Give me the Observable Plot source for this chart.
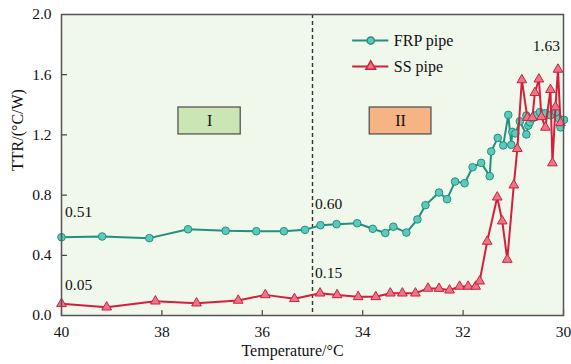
<!DOCTYPE html>
<html><head><meta charset="utf-8">
<script src="https://cdn.jsdelivr.net/npm/d3@7"></script>
<script src="https://cdn.jsdelivr.net/npm/@observablehq/plot@0.6"></script>
<style>
body{margin:0;background:#fff;}
svg, svg text { font-family: "Liberation Serif", "Times New Roman", Times, serif !important; }
</style>
</head><body><div id="chart"></div>
<script>
// ---- data ----
const seriesNames = ["FRP pipe", "SS pipe"];
const frpTemp = [40, 39.19, 38.25, 37.48, 36.73, 36.12, 35.57, 35.15, 34.84, 34.52, 34.11, 33.80, 33.55, 33.39, 33.13, 32.91, 32.75, 32.48, 32.32, 32.16, 31.97, 31.81, 31.64, 31.47, 31.44, 31.31, 31.20, 31.10, 31.04, 31.02, 30.96, 30.87, 30.74, 30.70, 30.74, 30.67, 30.62, 30.55, 30.47, 30.36, 30.26, 30.15, 30.09, 30.06, 29.99];
const frpTTR  = [0.52, 0.525, 0.514, 0.573, 0.563, 0.56, 0.56, 0.569, 0.60, 0.607, 0.613, 0.576, 0.548, 0.59, 0.551, 0.638, 0.733, 0.817, 0.773, 0.89, 0.879, 0.985, 1.014, 0.926, 1.09, 1.18, 1.13, 1.333, 1.134, 1.22, 1.21, 1.29, 1.203, 1.262, 1.329, 1.284, 1.31, 1.33, 1.351, 1.344, 1.33, 1.351, 1.307, 1.25, 1.30];
const ssTemp = [40, 39.10, 38.13, 37.31, 36.48, 35.94, 35.36, 34.85, 34.51, 34.09, 33.74, 33.45, 33.21, 32.95, 32.70, 32.48, 32.27, 32.07, 31.90, 31.75, 31.67, 31.52, 31.32, 31.22, 31.12, 30.99, 30.92, 30.83, 30.72, 30.62, 30.57, 30.49, 30.44, 30.36, 30.26, 30.22, 30.16, 30.11, 30.06];
const ssTTR  = [0.078, 0.055, 0.095, 0.082, 0.10, 0.137, 0.111, 0.148, 0.137, 0.124, 0.124, 0.148, 0.148, 0.148, 0.180, 0.179, 0.168, 0.193, 0.193, 0.193, 0.228, 0.492, 0.786, 0.627, 0.372, 0.866, 1.108, 1.565, 1.315, 1.314, 1.48, 1.57, 1.32, 1.25, 1.50, 1.013, 1.385, 1.635, 1.28];
const xTicks = [40, 38, 36, 34, 32, 30];
const yTicks = [0, 0.4, 0.8, 1.2, 1.6, 2.0];
const phaseBoundary = [35];
const regionLabels = ["I", "II"];
const annotationTexts = ["0.51", "0.05", "0.60", "0.15", "1.63"];

// ---- build ----
const frp = frpTemp.map((t, i) => ({t, v: frpTTR[i]}));
const ss = ssTemp.map((t, i) => ({t, v: ssTTR[i]}));

const teal = "#23907f", tealFill = "#5ccabb";
const red = "#d21f3c", redFill = "#e8778a";
const axisColor = "#444";
const serif = "Liberation Serif";
const tickShape = {draw(ctx, l) { ctx.moveTo(0, 0); ctx.lineTo(0, -l); }};

const regions = [
  {label: regionLabels[0], x1: 37.67, x2: 36.43, fill: "#cce5b5"},
  {label: regionLabels[1], x1: 33.86, x2: 32.63, fill: "#f6b384"}
];
const notes = [
  {text: annotationTexts[0], x: 39.93, y: 0.685, a: "start"},
  {text: annotationTexts[1], x: 39.93, y: 0.205, a: "start"},
  {text: annotationTexts[2], x: 34.95, y: 0.74, a: "start"},
  {text: annotationTexts[3], x: 34.95, y: 0.28, a: "start"},
  {text: annotationTexts[4], x: 30.07, y: 1.79, a: "end"}
];
const legend = [
  {name: seriesNames[0], y: 1.827, stroke: teal, fill: tealFill, symbol: "circle"},
  {name: seriesNames[1], y: 1.655, stroke: red, fill: redFill, symbol: "triangle"}
];

const chart = Plot.plot({
  width: 571,
  height: 364,
  marginLeft: 61,
  marginRight: 8,
  marginTop: 14,
  marginBottom: 49,
  style: {fontFamily: serif, fontSize: "15px", color: "#111", background: "#fff"},
  x: {domain: [40, 30]},
  y: {domain: [0, 2]},
  marks: [
    Plot.frame({fill: "#f0f7eb", stroke: null}),
    Plot.ruleX(phaseBoundary, {stroke: "#333", strokeWidth: 1.4, strokeDasharray: "4,3"}),
    Plot.rect(regions, {x1: "x1", x2: "x2", y1: 1.203, y2: 1.382, fill: "fill", stroke: "#555", strokeWidth: 1.3}),
    Plot.text(regions, {x: d => (d.x1 + d.x2) / 2, y: 1.292, text: "label", fontSize: 16, fontFamily: serif, fill: "#111"}),
    Plot.line(frp, {x: "t", y: "v", stroke: teal, strokeWidth: 2}),
    Plot.dot(frp, {x: "t", y: "v", r: 3.8, fill: tealFill, stroke: teal, strokeWidth: 1}),
    Plot.line(ss, {x: "t", y: "v", stroke: red, strokeWidth: 2}),
    Plot.dot(ss, {x: "t", y: "v", r: 3.6, symbol: "triangle", fill: redFill, stroke: red, strokeWidth: 1}),
    Plot.text(notes, {x: "x", y: "y", text: "text", textAnchor: "start", filter: d => d.a === "start", fontSize: 15.5, fontFamily: serif, fill: "#111"}),
    Plot.text(notes, {x: "x", y: "y", text: "text", textAnchor: "end", filter: d => d.a === "end", fontSize: 15.5, fontFamily: serif, fill: "#111"}),
    // legend
    Plot.ruleY(legend, {y: "y", x1: 34.2, x2: 33.48, stroke: "stroke", strokeWidth: 2}),
    Plot.dot(legend, {x: 33.84, y: "y", r: 3.6, symbol: "symbol", fill: "fill", stroke: "stroke"}),
    Plot.text(legend, {x: 33.38, y: "y", text: "name", textAnchor: "start", fontSize: 16, fontFamily: serif, fill: "#111"}),
    // axes
    Plot.vector(xTicks, {x: d => d, frameAnchor: "bottom", length: 5, rotate: 0, anchor: "start", shape: tickShape, stroke: axisColor, strokeWidth: 1.2}),
    Plot.vector(yTicks, {y: d => d, frameAnchor: "left", length: 5, rotate: 90, anchor: "start", shape: tickShape, stroke: axisColor, strokeWidth: 1.2}),
    Plot.axisX({ticks: xTicks, tickSize: 0, tickPadding: 10, label: null, fontSize: 15.5, fontFamily: serif, fill: "#111"}),
    Plot.axisY({ticks: yTicks, tickSize: 0, tickPadding: 10, label: null, tickFormat: d => d.toFixed(1), fontSize: 15.5, fontFamily: serif, fill: "#111"}),
    Plot.text(["Temperature/°C"], {frameAnchor: "bottom", dy: 40, dx: -20, fontSize: 16, fontFamily: serif, fill: "#111"}),
    Plot.text(["TTR/(°C/W)"], {frameAnchor: "left", dx: -44, dy: 6, rotate: -90, fontSize: 16, fontFamily: serif, fill: "#111"}),
    Plot.frame({stroke: "#555", strokeWidth: 1.5})
  ]
});
document.getElementById("chart").appendChild(chart);
</script>
</body></html>
